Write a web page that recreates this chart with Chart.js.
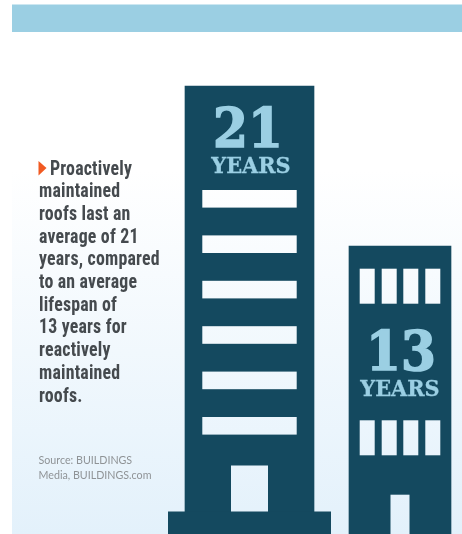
<!DOCTYPE html>
<html>
<head>
<meta charset="utf-8">
<style>
  html, body { margin: 0; padding: 0; background: #fff; overflow: hidden; }
  #wrap { position: relative; width: 462px; height: 534px; }
  #note {
    position: absolute; left: 39px; top: 157.5px;
    font: bold 19.5px/22.7px "Roboto Condensed", sans-serif;
    letter-spacing: 0.2px; color: #454a4e; white-space: pre;
    transform: scaleX(0.915); transform-origin: left top;
  }
  #note span { margin-left: 12px; }
  #source {
    position: absolute; left: 38.5px; top: 452px;
    font: 10.7px/15px Lato, sans-serif; color: #8f9396; white-space: pre;
  }
  .years {
    position: absolute; color: #9bcfe3; text-align: center; white-space: nowrap;
    font-family: "DejaVu Serif", serif; font-weight: bold; line-height: 1;
    transform: translateX(-50%) scaleX(var(--squeeze, 1));
    -webkit-text-stroke: var(--heft, 0) #9bcfe3;
  }
</style>
</head>
<body>
<div id="wrap">
  <canvas id="roofs" width="462" height="534"></canvas>
  <div id="note"><span>Proactively</span>
maintained
roofs last an
average of 21
years, compared
to an average
lifespan of
13 years for
reactively
maintained
roofs.</div>
  <div id="source">Source: BUILDINGS
Media, BUILDINGS.com</div>
</div>
<script src="https://cdn.jsdelivr.net/npm/chart.js@4"></script>
<script>
const categories = ['Proactively maintained', 'Reactively maintained'];
const lifespanYears = [21, 13];
const unitLabel = 'YEARS';

const navy = '#14495f';
const skyBlue = '#9bcfe3';
const groundYears = -1.4; // the buildings stand below the zero line

let wallGradient;

// big number and unit sit on top of the canvas as html text
function addLabel(text, cx, top, size, squeeze, heft) {
  const el = document.createElement('div');
  el.className = 'years';
  el.textContent = text;
  el.style.left = cx + 'px';
  el.style.top = top + 'px';
  el.style.fontSize = size + 'px';
  el.style.setProperty('--squeeze', squeeze);
  el.style.setProperty('--heft', heft + 'px');
  document.getElementById('wrap').appendChild(el);
}

const backdrop = {
  id: 'backdrop',
  beforeDraw(chart) {
    const { ctx, width, height } = chart;
    wallGradient = ctx.createLinearGradient(0, 170, 0, height);
    wallGradient.addColorStop(0, '#ffffff');
    wallGradient.addColorStop(1, '#e3f1fb');
    ctx.fillStyle = wallGradient;
    ctx.fillRect(12, 0, width - 12, height);
    ctx.fillStyle = skyBlue;
    ctx.fillRect(12, 4.5, width - 12, 27.5);
    // orange marker in front of the note
    ctx.fillStyle = '#f15a22';
    ctx.beginPath();
    ctx.moveTo(38.5, 161);
    ctx.lineTo(46.5, 168);
    ctx.lineTo(38.5, 175.5);
    ctx.closePath();
    ctx.fill();
  }
};

const buildings = {
  id: 'buildings',
  afterDatasetsDraw(chart) {
    const { ctx, height } = chart;
    const tall = chart.getDatasetMeta(0).data[0];
    const short = chart.getDatasetMeta(1).data[1];

    // plinth under the tall building
    ctx.fillStyle = navy;
    ctx.fillRect(tall.x - 81.5, 511.5, 163, height - 511.5);

    ctx.fillStyle = wallGradient;
    // tall building: six wide windows and a door
    for (let i = 0; i < 6; i++) {
      ctx.fillRect(tall.x - 47.2, tall.y + 104 + i * 45.4, 94.4, 17.6);
    }
    ctx.fillRect(tall.x - 18.5, 465.5, 37, 46);

    // short building: two rows of narrow windows and a door
    [22.7, 174.3].forEach(top => {
      [-40.3, -18.3, 3.3, 25.3].forEach(dx => {
        ctx.fillRect(short.x + dx, short.y + top, 15, 35);
      });
    });
    ctx.fillRect(short.x - 9.5, 494.7, 19, height - 494.7);

    addLabel(String(lifespanYears[0]), tall.x - 2, tall.y + 14.5, 54, 0.93, 1.6);
    addLabel(unitLabel, tall.x + 1.5, tall.y + 68.5, 21.5, 0.97, 0.3);
    addLabel(String(lifespanYears[1]), short.x + 1, short.y + 77.5, 54, 0.93, 1.6);
    addLabel(unitLabel, short.x, short.y + 132, 21.5, 0.97, 0.3);
  }
};

new Chart(document.getElementById('roofs'), {
  type: 'bar',
  data: {
    labels: categories,
    datasets: [
      {
        data: [lifespanYears[0], null],
        backgroundColor: navy,
        barThickness: 129,
        grouped: false,
        base: groundYears,
        clip: false
      },
      {
        data: [null, lifespanYears[1]],
        backgroundColor: navy,
        barThickness: 102,
        grouped: false,
        base: groundYears,
        clip: false
      }
    ]
  },
  options: {
    responsive: false,
    animation: false,
    layout: { padding: { left: 249.5, right: 62, top: 0, bottom: 0 } },
    plugins: { legend: { display: false }, tooltip: { enabled: false } },
    scales: {
      x: { display: false, offset: false },
      y: { display: false, min: groundYears, max: 25.3 }
    }
  },
  plugins: [backdrop, buildings]
});
</script>
</body>
</html>
